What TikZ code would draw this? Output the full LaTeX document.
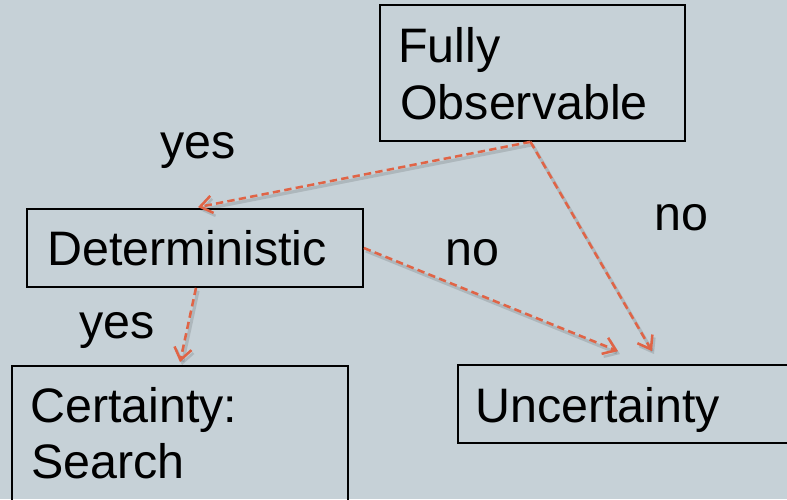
\documentclass[tikz,border=0pt]{standalone}
\usepackage{fontspec}
\setmainfont{Liberation Sans}
\usetikzlibrary{arrows.meta,calc,fit}

\definecolor{bgcol}{RGB}{198,209,215}
\definecolor{arrowcol}{RGB}{224,100,70}

\tikzset{
  box/.style={draw=black, line width=1.3pt, inner sep=0pt},
  lbl/.style={inner sep=0pt, anchor=base west, font=\fontsize{36.3}{42}\selectfont},
  link/.style={draw=arrowcol, line width=1.9pt, dash pattern=on 5.5pt off 3.2pt,
    -{Straight Barb[length=9pt,width=13pt,line width=1.9pt]},
    preaction={draw=black, opacity=0.12, line width=2.4pt,
      transform canvas={shift={(1.5pt,-2.2pt)}}}},
}

\begin{document}
\begin{tikzpicture}[x=0.75pt, y=-0.75pt]
  % canvas
  \fill[bgcol] (0,0) rectangle (787,499);
  \useasboundingbox (0,0) rectangle (787,499);

  % decision boxes
  \node[box, fit={(380,5) (685,141)}] (fo) {};
  \node[box, fit={(27,209) (363,287)}] (det) {};
  \node[box, fit={(12,366) (348,530)}] (cert) {};
  \node[box, fit={(458,365) (800,443)}] (unc) {};

  % box texts
  \node[lbl] (foA) at (398,63) {Fully};
  \node[lbl] (foB) at (400,119) {Observable};
  \node[lbl] (detT) at (47,265) {Deterministic};
  \node[lbl] (certA) at (30,422) {Certainty:};
  \node[lbl] (certB) at (31,478) {Search};
  \node[lbl] (uncT) at (475,422) {Uncertainty};

  % branch labels
  \node[lbl] (yesA) at (160,158) {yes};
  \node[lbl] (noA) at (654,230) {no};
  \node[lbl] (noB) at (445,265) {no};
  \node[lbl] (yesB) at (79,338) {yes};

  % branches
  \draw[link] ($(fo.south)+(-2,0)$) -- ($(det.north)+(3,-1)$);
  \draw[link] ($(fo.south)+(-2,0)$) -- ($(unc.north)+(23,-13)$);
  \draw[link] (det.east) -- ($(unc.north)+(-11,-13)$);
  \draw[link] ($(det.south)+(1,0)$) -- ($(cert.north)+(0,-3)$);
\end{tikzpicture}
\end{document}
